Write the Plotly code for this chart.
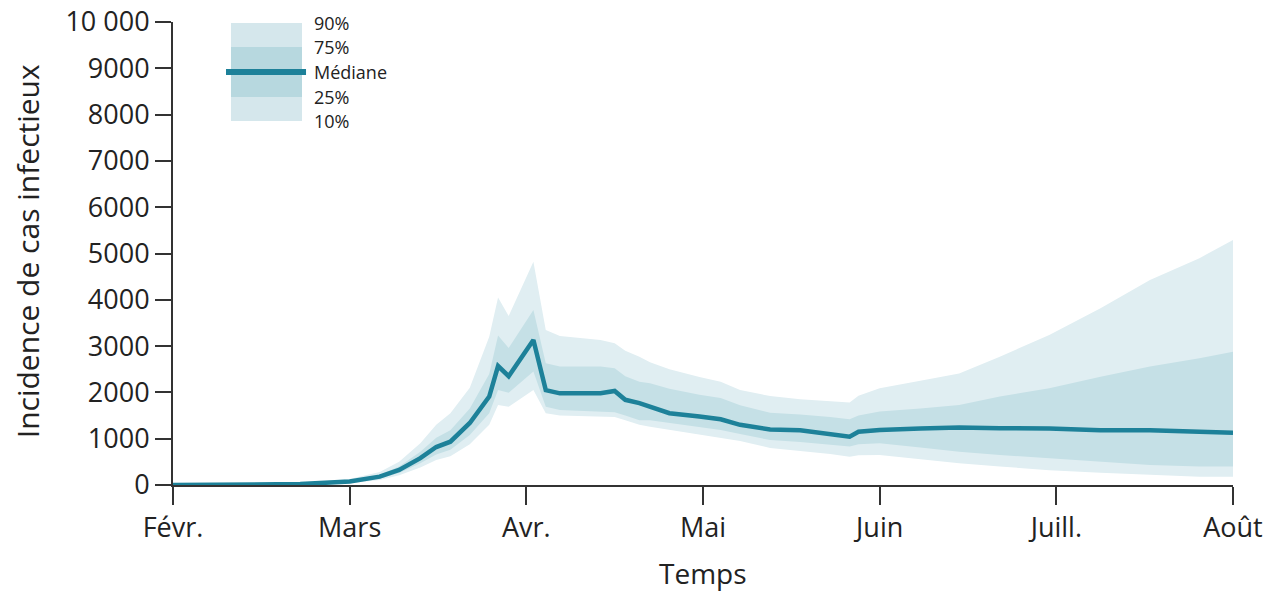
import plotly.graph_objects as go

# x positions in months since 1 Feb (0 = Févr., 6 = Août)
months = [0.00, 0.44, 0.72, 1.00, 1.17, 1.28, 1.40, 1.49, 1.57, 1.68, 1.79, 1.84, 1.90,
          2.04, 2.11, 2.19, 2.42, 2.50, 2.56, 2.64, 2.70, 2.81, 2.98, 3.10, 3.21, 3.38,
          3.55, 3.72, 3.83, 3.88, 4.00, 4.23, 4.45, 4.68, 4.96, 5.25, 5.53, 5.81, 6.00]

median = [0, 5, 20, 75, 180, 325, 580, 820, 935, 1340, 1910, 2570, 2350,
          3130, 2050, 1980, 1980, 2030, 1840, 1770, 1700, 1550, 1480, 1420, 1300, 1200,
          1180, 1100, 1045, 1150, 1190, 1220, 1240, 1225, 1220, 1180, 1180, 1150, 1130]

p90 = [0, 10, 40, 130, 280, 500, 900, 1300, 1550, 2100, 3200, 4050, 3650,
       4820, 3350, 3220, 3130, 3060, 2900, 2770, 2650, 2500, 2330, 2230, 2050, 1920,
       1850, 1800, 1780, 1930, 2090, 2250, 2410, 2770, 3240, 3820, 4430, 4900, 5290]

p75 = [0, 7, 28, 95, 220, 400, 720, 1020, 1180, 1650, 2400, 3230, 2960,
       3780, 2630, 2560, 2560, 2520, 2350, 2230, 2200, 2080, 1950, 1880, 1720, 1560,
       1520, 1470, 1420, 1500, 1590, 1650, 1730, 1910, 2090, 2340, 2560, 2740, 2880]

p25 = [0, 3, 14, 55, 140, 260, 470, 660, 760, 1080, 1550, 2050, 1990,
       2450, 1690, 1620, 1580, 1570, 1500, 1400, 1400, 1340, 1240, 1190, 1100, 970,
       930, 870, 830, 880, 900, 810, 720, 650, 575, 500, 430, 400, 400]

p10 = [0, 2, 10, 40, 110, 210, 380, 540, 620, 880, 1300, 1730, 1690,
       2050, 1550, 1500, 1480, 1470, 1400, 1300, 1260, 1190, 1080, 1010, 950, 800,
       740, 670, 610, 640, 650, 560, 470, 400, 320, 265, 215, 180, 180]

x_tickvals = [0, 1, 2, 3, 4, 5, 6]
x_ticklabels = ["Févr.", "Mars", "Avr.", "Mai", "Juin", "Juill.", "Août"]
y_tickvals = [0, 1000, 2000, 3000, 4000, 5000, 6000, 7000, 8000, 9000, 10000]
y_ticklabels = ["0", "1000", "2000", "3000", "4000", "5000", "6000", "7000", "8000", "9000", "10 000"]

legend_labels = ["90%", "75%", "Médiane", "25%", "10%"]
x_title = "Temps"
y_title = "Incidence de cas infectieux"

LIGHT = "#e0eef2"
DARK = "#c5e0e6"
LINE = "#1d8199"
LEG_LIGHT = "#d5e7ec"
LEG_DARK = "#b7d8df"
FONT = "'Open Sans', Lato, sans-serif"
AX = "#333333"
TXT = "#222222"

fig = go.Figure()
fig.add_trace(go.Scatter(x=months, y=p10, mode="lines", line=dict(width=0, color=LIGHT),
                         showlegend=False, hoverinfo="skip"))
fig.add_trace(go.Scatter(x=months, y=p90, mode="lines", line=dict(width=0, color=LIGHT),
                         fill="tonexty", fillcolor=LIGHT, showlegend=False, hoverinfo="skip"))
fig.add_trace(go.Scatter(x=months, y=p25, mode="lines", line=dict(width=0, color=DARK),
                         showlegend=False, hoverinfo="skip"))
fig.add_trace(go.Scatter(x=months, y=p75, mode="lines", line=dict(width=0, color=DARK),
                         fill="tonexty", fillcolor=DARK, showlegend=False, hoverinfo="skip"))
fig.add_trace(go.Scatter(x=months, y=median, mode="lines", line=dict(width=4.5, color=LINE),
                         showlegend=False))

# custom legend (paper coords)
lx0, lx1 = 0.0547, 0.1217
ys = [0.998, 0.946, 0.892, 0.838, 0.786]
fig.add_shape(type="rect", xref="paper", yref="paper", x0=lx0, x1=lx1, y0=ys[4], y1=ys[0],
              fillcolor=LEG_LIGHT, line=dict(width=0), layer="above")
fig.add_shape(type="rect", xref="paper", yref="paper", x0=lx0, x1=lx1, y0=ys[3], y1=ys[1],
              fillcolor=LEG_DARK, line=dict(width=0), layer="above")
fig.add_shape(type="line", xref="paper", yref="paper", x0=0.0500, x1=0.1255, y0=ys[2], y1=ys[2],
              line=dict(width=6, color=LINE), layer="above")
for lab, yy in zip(legend_labels, ys):
    fig.add_annotation(xref="paper", yref="paper", x=0.1320, y=yy, text=lab, showarrow=False,
                       xanchor="left", yanchor="middle", borderpad=0,
                       font=dict(family=FONT, size=18, color=TXT))

# axis titles
fig.add_annotation(xref="paper", yref="paper", x=-0.1377, y=0.505, text=y_title, textangle=-90,
                   showarrow=False, xanchor="center", yanchor="middle",
                   font=dict(family=FONT, size=30, color=TXT))
fig.add_annotation(xref="paper", yref="paper", x=0.5, y=-0.19, text=x_title,
                   showarrow=False, xanchor="center", yanchor="middle",
                   font=dict(family=FONT, size=28, color=TXT))

fig.update_layout(
    width=1271, height=593,
    margin=dict(l=173, r=38, t=22, b=108),
    paper_bgcolor="white", plot_bgcolor="white",
    font=dict(family=FONT, color=TXT),
    hovermode=False,
    xaxis=dict(range=[0, 6], tickvals=x_tickvals, ticktext=x_ticklabels, automargin=False,
               showgrid=False, zeroline=False, showline=True, linecolor=AX, linewidth=2,
               ticks="outside", ticklen=18, tickwidth=2, tickcolor=AX,
               tickfont=dict(family=FONT, size=27, color=TXT)),
    yaxis=dict(range=[0, 10000], tickvals=y_tickvals, ticktext=y_ticklabels, automargin=False,
               showgrid=False, zeroline=False, showline=True, linecolor=AX, linewidth=2,
               ticks="outside", ticklen=16, tickwidth=2, tickcolor=AX,
               tickfont=dict(family=FONT, size=27, color=TXT)),
)

fig.write_html("out.html", config={"displayModeBar": False})

# remove the browser's default page margin so the figure sits at (0, 0)
with open("out.html", "r", encoding="utf-8") as f:
    html = f.read()
html = html.replace("<head>", "<head><style>html,body{margin:0;padding:0;overflow:hidden;}</style>", 1)
with open("out.html", "w", encoding="utf-8") as f:
    f.write(html)
